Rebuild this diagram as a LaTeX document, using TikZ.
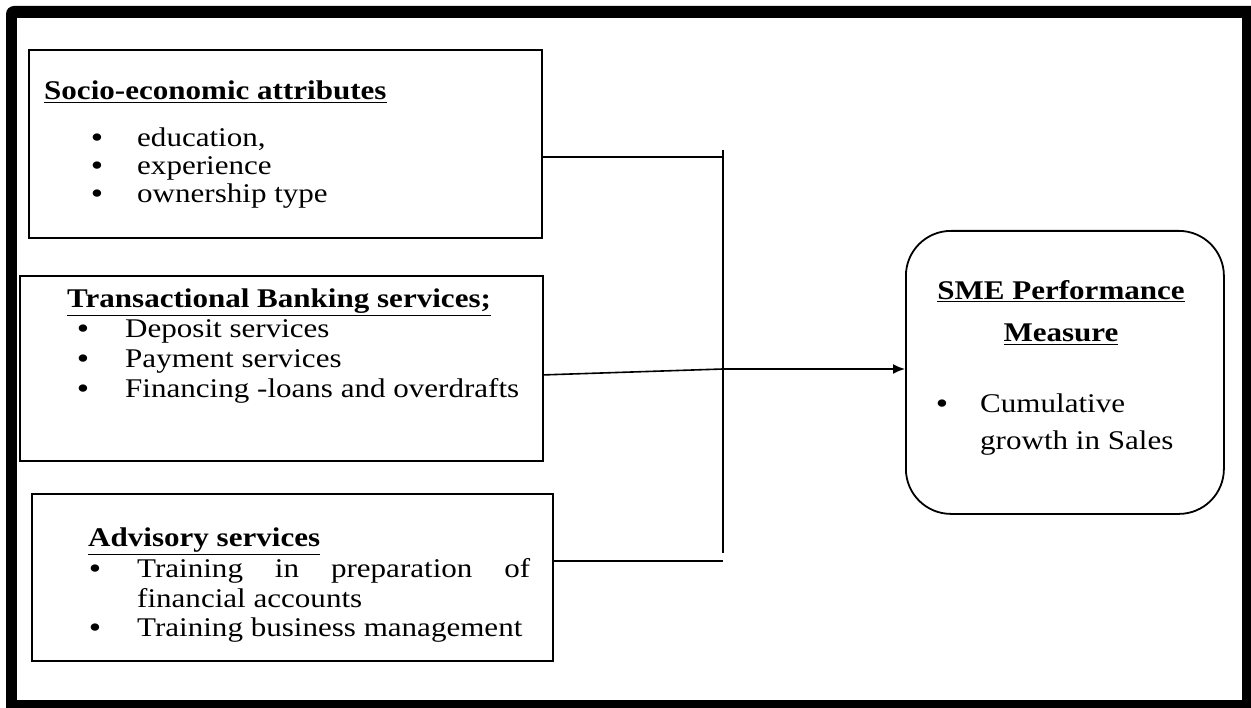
\documentclass[tikz,border=0pt]{standalone}
\usepackage{fontspec}
\setmainfont{Liberation Serif}[FakeStretch=1.15]
\usetikzlibrary{arrows.meta}
\begin{document}
\begin{tikzpicture}[x=1pt,y=-1pt,
  boxst/.style={draw=black, line width=1.8pt, inner sep=0pt, anchor=north west},
  txt/.style={anchor=base west, inner sep=0pt, font=\fontsize{27}{30}\selectfont},
  ttl/.style={anchor=base west, inner sep=0pt, font=\fontsize{27}{30}\selectfont\bfseries},
  ctl/.style={anchor=base, inner sep=0pt, font=\fontsize{27}{30}\selectfont\bfseries},
  bul/.style={anchor=base, inner sep=0pt, font=\fontsize{27}{30}\selectfont\bfseries},
  link/.style={line width=1.6pt, black}]
\useasboundingbox (0,0) rectangle (1251,708);
% frame
\fill[black, rounded corners=8pt] (6,6) rectangle (1270,725);
\fill[white] (17,18) rectangle (1242,700);

% boxes
\node[boxst, minimum width=513pt, minimum height=188pt] (b1) at (28,49) {};
\node[boxst, minimum width=523pt, minimum height=185pt] (b2) at (19,275) {};
\node[boxst, minimum width=521pt, minimum height=167pt] (b3) at (31,493) {};
\node[draw=black, line width=1.8pt, rounded corners=45pt, inner sep=0pt,
      minimum width=318pt, minimum height=283pt, anchor=north west] (sme) at (905,230) {};

% box 1 text
\node[ttl] (t1) at (44,100) {\underline{Socio-economic attributes}};
\node[bul] (u11) at (97,147) {•};
\node[bul] (u12) at (97,175) {•};
\node[bul] (u13) at (97,203) {•};
\node[txt] (l11) at (137,147) {education,};
\node[txt] (l12) at (137,175) {experience};
\node[txt] (l13) at (137,203) {ownership type};

% box 2 text
\node[ttl] (t2) at (67,308) {\underline{Transactional Banking services;}};
\node[bul] (u21) at (83,338) {•};
\node[bul] (u22) at (83,368) {•};
\node[bul] (u23) at (83,398) {•};
\node[txt] (l21) at (125,338) {Deposit services};
\node[txt] (l22) at (125,368) {Payment services};
\node[txt] (l23) at (125,398) {Financing -loans and overdrafts};

% box 3 text
\node[ttl] (t3) at (88,547) {\underline{Advisory services}};
\node[bul] (u31) at (95,577) {•};
\node[bul] (u32) at (95,636) {•};
\node[txt] (l31) at (137,577) {\makebox[393pt][s]{Training in preparation of}};
\node[txt] (l32) at (137,607) {financial accounts};
\node[txt] (l33) at (137,636) {Training business management};

% SME text
\node[ctl] (s1) at (1061,300) {\underline{SME Performance}};
\node[ctl] (s2) at (1061,342) {\underline{Measure}};
\node[bul] (us) at (942,413) {•};
\node[txt] (s3) at (980,413) {Cumulative};
\node[txt] (s4) at (980,450) {growth in Sales};

% connectors
\coordinate (bt) at (723,150);
\coordinate (bb) at (723,553);
\coordinate (h1) at (723,157);
\coordinate (h3) at (723,561);
\coordinate (j) at (723,369);
\draw[link] (bt) -- (bb);
\draw[link] (b1.east |- h1) -- (h1);
\draw[link] (b3.east |- h3) -- (h3);
\draw[link, -{Latex[length=12pt,width=10pt]}] ([yshift=-6.5pt]b2.east) -- (j) -- (sme.west |- j);
\end{tikzpicture}
\end{document}
